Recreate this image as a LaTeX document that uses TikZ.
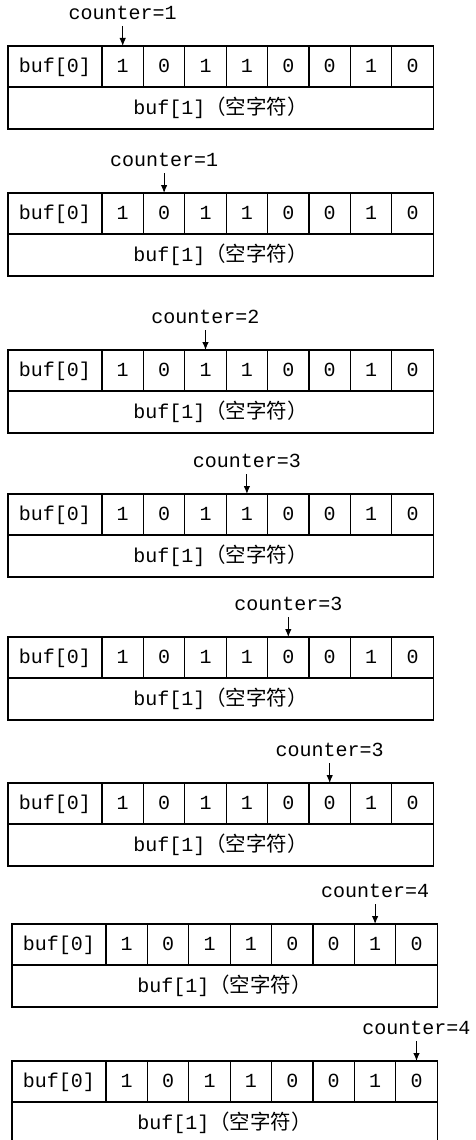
\documentclass[tikz,border=0pt]{standalone}
\usepackage{fontspec}
\newfontfamily\codefont{Liberation Mono}
\newfontfamily\cjkfont{Noto Sans CJK SC}
\usetikzlibrary{arrows.meta,positioning}
\tikzset{
  framed/.style={draw,line width=1.2pt,inner sep=0pt,outer sep=0pt,font=\codefont\fontsize{20}{22}\selectfont},
  cellbox/.style={framed,minimum width=41.4pt,minimum height=41pt,text height=12pt,text depth=0pt},
  headbox/.style={cellbox,minimum width=94pt},
  nullbox/.style={framed,minimum width=425.2pt,minimum height=42pt},
  ptrlabel/.style={inner sep=0pt,outer ysep=6pt,font=\codefont\fontsize{20}{22}\selectfont},
  ptr/.style={-{Latex[length=8pt,width=6.5pt]},line width=1pt}
}
\newcommand\nullch{{\cjkfont\fontsize{20.5}{22}\selectfont（空字符）}}

\begin{document}
\begin{tikzpicture}[x=1pt,y=-1pt]
  \useasboundingbox (0,0) rectangle (475,1140);
  \foreach \y/\x/\p/\n [count=\b] in {46/8/1/1,193/8/2/1,350/8/3/2,494/8/4/3,637/8/5/3,783/8/6/3,924/12/7/4,1061/12/8/4}{
    \node[headbox,anchor=north west] (c\b-0) at (\x,\y) {buf[0]};
    \foreach \v [count=\i,remember=\i as \j (initially 0)] in {1,0,1,1,0,0,1,0}
      \node[cellbox,right=0pt of c\b-\j] (c\b-\i) {\v};
    \node[nullbox,anchor=north west] (z\b) at (c\b-0.south west) {buf[1]\nullch};
    \node[ptrlabel,above=20pt of c\b-\p] (k\b) {counter=\n};
    \draw[ptr] (k\b) -- (c\b-\p);
  }
\end{tikzpicture}
\end{document}
